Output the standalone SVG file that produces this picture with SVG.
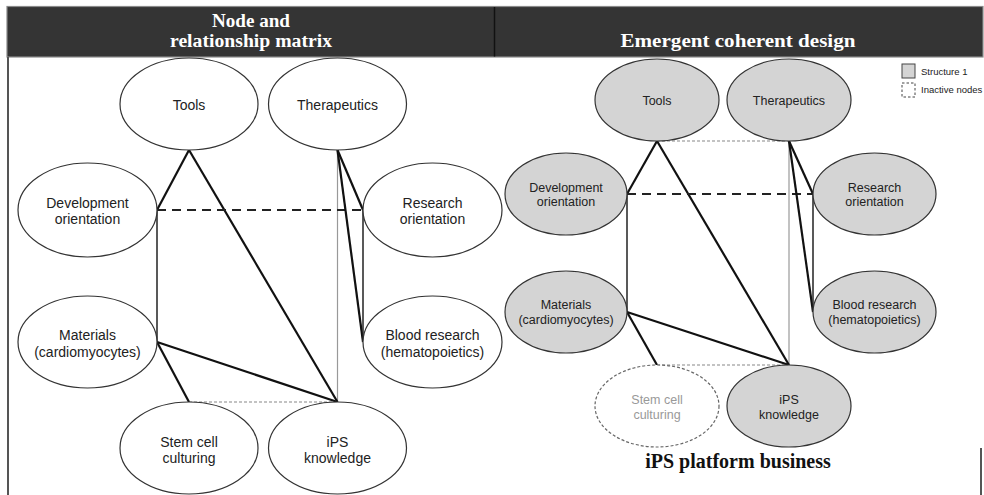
<svg xmlns="http://www.w3.org/2000/svg" width="984" height="495" viewBox="0 0 984 495">
  <style>
    .hdr { font-family: "Liberation Serif", "Times New Roman", serif; font-weight: bold; fill: #ffffff; text-anchor: middle; }
    .node ellipse { fill: #ffffff; stroke: #333333; stroke-width: 1.2; }
    .node text { font-family: "Liberation Sans", Arial, sans-serif; fill: #222222; text-anchor: middle; }
    .l text { font-size: 14px; }
    .r text { font-size: 12.5px; }
    .r ellipse { fill: #d4d4d4; }
    .r.inactive ellipse { fill: #ffffff; stroke: #666666; stroke-dasharray: 3 2; }
    .r.inactive text { fill: #999999; }
    .thick { stroke: #111111; stroke-width: 2.2; fill: none; }
    .med { stroke: #222222; stroke-width: 1.5; fill: none; }
    .thin { stroke: #999999; stroke-width: 1.2; fill: none; }
    .dash { stroke: #222222; stroke-width: 2; stroke-dasharray: 9 6; fill: none; }
    .dot { stroke: #888888; stroke-width: 1.2; stroke-dasharray: 3 2; fill: none; }
    .legend text { font-family: "Liberation Sans", Arial, sans-serif; font-size: 9.5px; fill: #222222; }
  </style>

  <!-- header band -->
  <g id="header">
    <rect x="7" y="6.5" width="976" height="50.5" fill="#343434" stroke="#8a8a8a" stroke-width="1.2"/>
    <line x1="494.5" y1="7" x2="494.5" y2="56.5" stroke="#111111" stroke-width="1.5"/>
    <text class="hdr" x="251" y="27" font-size="18" textLength="78" lengthAdjust="spacingAndGlyphs">Node and</text>
    <text class="hdr" x="251" y="47" font-size="18" textLength="162" lengthAdjust="spacingAndGlyphs">relationship matrix</text>
    <text class="hdr" x="738" y="47" font-size="18" textLength="235" lengthAdjust="spacingAndGlyphs">Emergent coherent design</text>
  </g>

  <!-- frame lines -->
  <line x1="8" y1="57" x2="8" y2="495" stroke="#555555" stroke-width="2"/>
  <line x1="981" y1="448" x2="981" y2="495" stroke="#555555" stroke-width="2"/>

  <!-- connectors -->
  <g id="connectors">
    <!-- left panel -->
    <line class="thin" x1="337.5" y1="150" x2="337.5" y2="402"/>
    <line class="dot" x1="189" y1="402" x2="337.5" y2="402"/>
    <line class="thick" x1="189" y1="150" x2="157" y2="210"/>
    <line class="thick" x1="189" y1="150" x2="337.5" y2="402"/>
    <line class="dash" x1="157" y1="210" x2="363" y2="210"/>
    <line class="thick" x1="337.5" y1="150" x2="363" y2="210"/>
    <line class="thick" x1="337.5" y1="150" x2="363" y2="342"/>
    <line class="med" x1="363" y1="210" x2="363" y2="342"/>
    <line class="med" x1="157" y1="210" x2="157" y2="342"/>
    <line class="thick" x1="157" y1="342" x2="337.5" y2="402"/>
    <line class="thick" x1="157" y1="342" x2="189" y2="402"/>

    <!-- right panel -->
    <line class="dot" x1="657" y1="141" x2="789" y2="141"/>
    <line class="thin" x1="789" y1="141" x2="789" y2="365"/>
    <line class="dot" x1="657" y1="365" x2="789" y2="365"/>
    <line class="thick" x1="657" y1="141" x2="627" y2="194"/>
    <line class="thick" x1="657" y1="141" x2="789" y2="365"/>
    <line class="dash" x1="627" y1="194" x2="813" y2="194"/>
    <line class="thick" x1="789" y1="141" x2="813" y2="194"/>
    <line class="thick" x1="789" y1="141" x2="813" y2="312"/>
    <line class="med" x1="813" y1="194" x2="813" y2="312"/>
    <line class="med" x1="627" y1="194" x2="627" y2="312"/>
    <line class="thick" x1="627" y1="312" x2="789" y2="365"/>
    <line class="thick" x1="627" y1="312" x2="657" y2="365"/>
  </g>

  <!-- left panel nodes -->
  <g id="l-tools" class="node l">
    <ellipse cx="189" cy="104" rx="69" ry="46"/>
    <text x="189" y="110">Tools</text>
  </g>
  <g id="l-therapeutics" class="node l">
    <ellipse cx="337.5" cy="104" rx="69" ry="46"/>
    <text x="337.5" y="110">Therapeutics</text>
  </g>
  <g id="l-development" class="node l">
    <ellipse cx="87.5" cy="210" rx="69.5" ry="47"/>
    <text x="87.5" y="208">Development</text>
    <text x="87.5" y="224">orientation</text>
  </g>
  <g id="l-research" class="node l">
    <ellipse cx="432.5" cy="210" rx="69.5" ry="47"/>
    <text x="432.5" y="208">Research</text>
    <text x="432.5" y="224">orientation</text>
  </g>
  <g id="l-materials" class="node l">
    <ellipse cx="87.5" cy="342" rx="69.5" ry="46"/>
    <text x="87.5" y="340">Materials</text>
    <text x="87.5" y="357">(cardiomyocytes)</text>
  </g>
  <g id="l-blood" class="node l">
    <ellipse cx="432.5" cy="342" rx="69.5" ry="46"/>
    <text x="432.5" y="340">Blood research</text>
    <text x="432.5" y="357">(hematopoietics)</text>
  </g>
  <g id="l-stemcell" class="node l">
    <ellipse cx="189" cy="448" rx="69" ry="46"/>
    <text x="189" y="447">Stem cell</text>
    <text x="189" y="463">culturing</text>
  </g>
  <g id="l-ips" class="node l">
    <ellipse cx="337.5" cy="448" rx="69" ry="46"/>
    <text x="337.5" y="447">iPS</text>
    <text x="337.5" y="463">knowledge</text>
  </g>

  <!-- right panel nodes -->
  <g id="r-tools" class="node r">
    <ellipse cx="657" cy="100" rx="62" ry="41"/>
    <text x="657" y="104.5">Tools</text>
  </g>
  <g id="r-therapeutics" class="node r">
    <ellipse cx="789" cy="100" rx="62" ry="41"/>
    <text x="789" y="104.5">Therapeutics</text>
  </g>
  <g id="r-development" class="node r">
    <ellipse cx="566" cy="194" rx="61" ry="41"/>
    <text x="566" y="191.5">Development</text>
    <text x="566" y="205.5">orientation</text>
  </g>
  <g id="r-research" class="node r">
    <ellipse cx="874.5" cy="194" rx="61.5" ry="41"/>
    <text x="874.5" y="191.5">Research</text>
    <text x="874.5" y="205.5">orientation</text>
  </g>
  <g id="r-materials" class="node r">
    <ellipse cx="566" cy="312" rx="61" ry="41"/>
    <text x="566" y="308.5">Materials</text>
    <text x="566" y="324">(cardiomyocytes)</text>
  </g>
  <g id="r-blood" class="node r">
    <ellipse cx="874.5" cy="312" rx="61.5" ry="41"/>
    <text x="874.5" y="308.5">Blood research</text>
    <text x="874.5" y="324">(hematopoietics)</text>
  </g>
  <g id="r-stemcell" class="node r inactive">
    <ellipse cx="657" cy="406" rx="62" ry="41"/>
    <text x="657" y="403.5">Stem cell</text>
    <text x="657" y="418.5">culturing</text>
  </g>
  <g id="r-ips" class="node r">
    <ellipse cx="789" cy="406" rx="62" ry="41"/>
    <text x="789" y="403.5">iPS</text>
    <text x="789" y="418.5">knowledge</text>
  </g>

  <!-- caption under the right panel -->
  <text id="caption" x="738" y="468" font-family="'Liberation Serif', 'Times New Roman', serif" font-weight="bold" font-size="20" text-anchor="middle" fill="#111111">iPS platform business</text>

  <!-- legend -->
  <g id="legend" class="legend">
    <rect x="902" y="64" width="13" height="14" fill="#d4d4d4" stroke="#444444" stroke-width="1"/>
    <text x="921" y="75">Structure 1</text>
    <rect x="902" y="83" width="13" height="14" fill="#ffffff" stroke="#444444" stroke-width="1" stroke-dasharray="2.5 2"/>
    <text x="921" y="93">Inactive nodes</text>
  </g>
</svg>
